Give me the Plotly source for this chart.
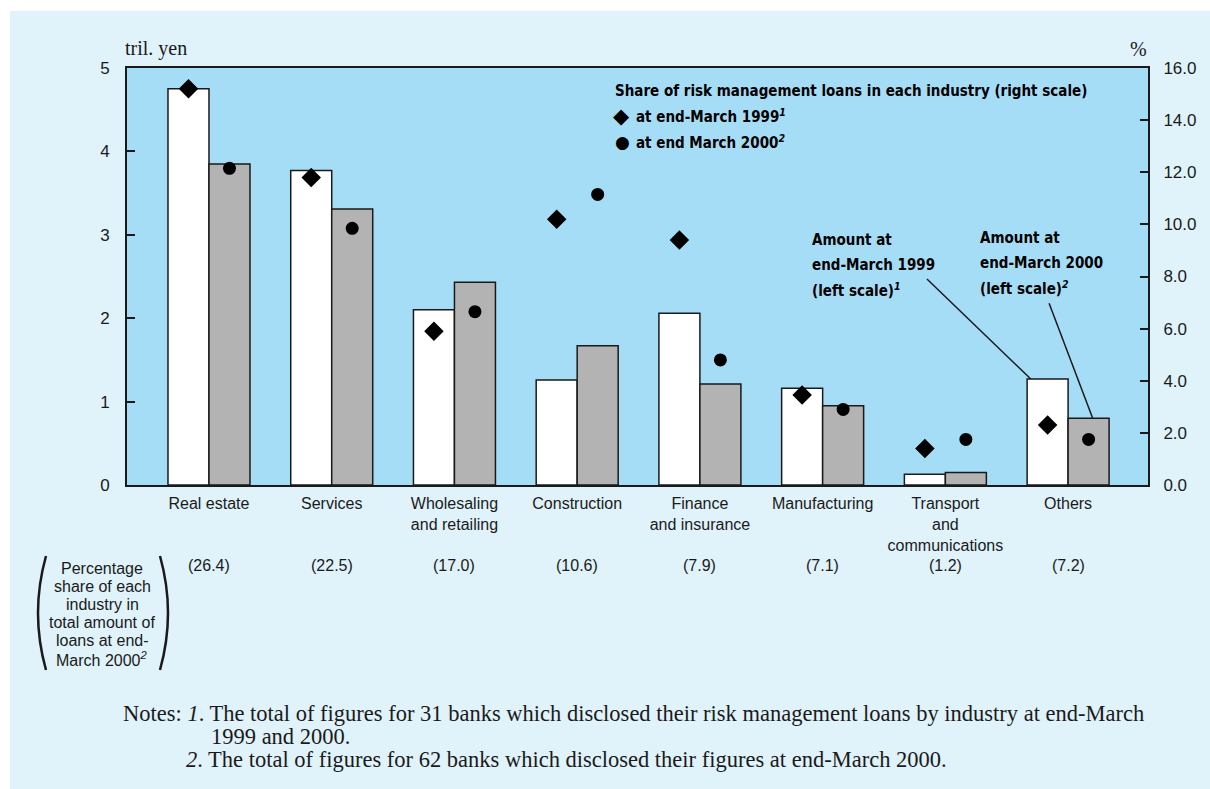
import numpy as np
import plotly.graph_objects as go

# ---- data -------------------------------------------------------------
industries = ["Real estate", "Services", "Wholesaling<br>and retailing", "Construction",
              "Finance<br>and insurance", "Manufacturing",
              "Transport<br>and<br>communications", "Others"]
amount_1999 = [4.75, 3.77, 2.10, 1.26, 2.06, 1.16, 0.13, 1.27]   # tril. yen, left scale
amount_2000 = [3.85, 3.31, 2.43, 1.67, 1.21, 0.95, 0.15, 0.80]   # tril. yen, left scale
share_1999 = [15.2, 11.8, 5.9, 10.2, 9.4, 3.45, 1.4, 2.3]         # %, right scale
share_2000 = [12.15, 9.85, 6.65, 11.15, 4.8, 2.9, 1.75, 1.75]     # %, right scale
loan_share_2000 = [26.4, 22.5, 17.0, 10.6, 7.9, 7.1, 1.2, 7.2]    # % of total loans
left_ticks = [0, 1, 2, 3, 4, 5]
right_ticks = [0, 2, 4, 6, 8, 10, 12, 14, 16]

# ---- geometry / style -------------------------------------------------
W, H = 1210, 789
ML, MR, MT, MB = 127, 62, 68, 304
PW, PH = W - ML - MR, H - MT - MB

OUTER_BG = "#e0f2fa"
PLOT_BG = "#a6ddf6"
INK = "#1a1a1a"
GREY = "#b3b3b3"
SANS = "Liberation Sans, Arial, sans-serif"
COND = "DejaVu Sans Condensed, sans-serif"
SERIF = "Liberation Serif, Times New Roman, serif"


def px(x):
    return (x - ML) / PW


def py(y):
    return (MT + PH - y) / PH


def label(text, x, y, font, xanchor="left", yanchor="middle"):
    return dict(text=text, x=px(x), y=py(y), xref="paper", yref="paper",
                xanchor=xanchor, yanchor=yanchor, showarrow=False, font=font)


idx = np.arange(len(industries))
half = 0.167
bw = 0.334

fig = go.Figure()
fig.add_trace(go.Bar(x=idx - half, y=amount_1999, width=bw,
                     marker=dict(color="white", line=dict(color=INK, width=1.5)),
                     showlegend=False))
fig.add_trace(go.Bar(x=idx + half, y=amount_2000, width=bw,
                     marker=dict(color=GREY, line=dict(color=INK, width=1.5)),
                     showlegend=False))
fig.add_trace(go.Scatter(x=idx - half, y=share_1999, yaxis="y2", mode="markers",
                         marker=dict(symbol="diamond", size=15, color="black"),
                         showlegend=False))
fig.add_trace(go.Scatter(x=idx + half, y=share_2000, yaxis="y2", mode="markers",
                         marker=dict(symbol="circle", size=13, color="black"),
                         showlegend=False))

annotations = []

# unit labels
unit_font = dict(family=SERIF, size=20, color=INK)
annotations.append(label("tril. yen", 123, 62, unit_font, yanchor="bottom"))
annotations.append(label("%", 1149, 62, unit_font, xanchor="right", yanchor="bottom"))

# legend block for the right-scale markers
bold = dict(family=COND, size=15, color="black")
glyph = dict(family="DejaVu Sans", color="black")
annotations.append(label("<b>Share of risk management loans in each industry (right scale)</b>",
                         613, 91, bold))
annotations.append(label("◆", 611, 116, dict(glyph, size=21)))
annotations.append(label("<b>at end-March 1999<sup><i>1</i></sup></b>", 634, 116, bold))
annotations.append(label("●", 613, 142, dict(glyph, size=17)))
annotations.append(label("<b>at end March 2000<sup><i>2</i></sup></b>", 634, 142, bold))

# bar series labels
for k, line in enumerate(["Amount at", "end-March 1999", "(left scale)<sup><i>1</i></sup>"]):
    annotations.append(label(f"<b>{line}</b>", 810, 240 + 25 * k, bold))
for k, line in enumerate(["Amount at", "end-March 2000", "(left scale)<sup><i>2</i></sup>"]):
    annotations.append(label(f"<b>{line}</b>", 978, 238 + 25 * k, bold))

# percentage share row
for i, v in enumerate(loan_share_2000):
    annotations.append(dict(text=f"({v:.1f})", x=i, y=py(565), xref="x", yref="paper",
                            xanchor="center", yanchor="middle", showarrow=False,
                            font=dict(family=SANS, size=16, color=INK)))

# bracketed description of the percentage row
desc_lines = ["Percentage", "share of each", "industry in", "total amount of",
              "loans at end-", "March 2000<sup><i>2</i></sup>"]
for k, line in enumerate(desc_lines):
    annotations.append(label(line, 102, 568 + 18.2 * k,
                             dict(family=SANS, size=16, color=INK), xanchor="center"))

# notes
note_font = dict(family=SERIF, size=22.5, color=INK)
annotations.append(label("Notes: <i>1</i>. The total of figures for 31 banks which disclosed their "
                         "risk management loans by industry at end-March", 121, 713, note_font))
annotations.append(label("1999 and 2000.", 209, 736, note_font))
annotations.append(label("<i>2</i>. The total of figures for 62 banks which disclosed their "
                         "figures at end-March 2000.", 184, 759, note_font))

shapes = [
    # white margin strips around the panel
    dict(type="rect", xref="paper", yref="paper", x0=px(0), x1=px(W), y0=py(11), y1=py(0),
         fillcolor="white", line=dict(width=0), layer="above"),
    dict(type="rect", xref="paper", yref="paper", x0=px(0), x1=px(10), y0=py(H), y1=py(0),
         fillcolor="white", line=dict(width=0), layer="above"),
    # leader lines from labels to the "Others" bars
    dict(type="line", xref="x", yref="y", x0=5.85, y0=2.47,
         x1=idx[-1] - 2 * half + 0.03, y1=amount_1999[-1], line=dict(color=INK, width=1.5)),
    dict(type="line", xref="x", yref="y", x0=6.845, y0=2.18,
         x1=idx[-1] + 1.2 * half, y1=amount_2000[-1], line=dict(color=INK, width=1.5)),
    # large parentheses around the description
    dict(type="path", xref="paper", yref="paper",
         path=f"M {px(46)},{py(556)} Q {px(30)},{py(613)} {px(46)},{py(670)}",
         line=dict(color=INK, width=2.5)),
    dict(type="path", xref="paper", yref="paper",
         path=f"M {px(160)},{py(556)} Q {px(176)},{py(613)} {px(160)},{py(670)}",
         line=dict(color=INK, width=2.5)),
]

fig.update_layout(
    width=W, height=H,
    margin=dict(l=ML, r=MR, t=MT, b=MB, pad=0),
    paper_bgcolor=OUTER_BG, plot_bgcolor=PLOT_BG,
    barmode="overlay", showlegend=False,
    xaxis=dict(range=[-0.668, 7.651], tickvals=list(idx), ticktext=industries,
               ticks="", showline=True, linecolor=INK, linewidth=2, mirror=True,
               showgrid=False, zeroline=False, ticklabelstandoff=3,
               tickfont=dict(family=SANS, size=16, color=INK)),
    yaxis=dict(range=[0, 5], tickvals=left_ticks, ticks="inside", ticklen=8, tickwidth=2,
               tickcolor=INK, showline=True, linecolor=INK, linewidth=2,
               showgrid=False, zeroline=False, ticklabelstandoff=12,
               tickfont=dict(family=SANS, size=17, color=INK)),
    yaxis2=dict(range=[0, 16], overlaying="y", side="right", tickvals=right_ticks,
                ticktext=[f"{t:.1f}" for t in right_ticks], ticks="inside", ticklen=8,
                tickwidth=2, tickcolor=INK, showline=True, linecolor=INK, linewidth=2,
                showgrid=False, zeroline=False, ticklabelstandoff=10,
                tickfont=dict(family=SANS, size=17, color=INK)),
    annotations=annotations,
    shapes=shapes,
)

fig.write_html("out.html")
